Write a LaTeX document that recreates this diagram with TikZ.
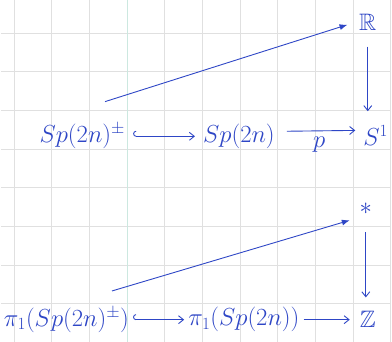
\documentclass[tikz,border=0pt]{standalone}
\usepackage{amsmath,amssymb}
\usepackage{tikz}
\usetikzlibrary{arrows.meta,positioning}
\definecolor{InkColor}{RGB}{46,70,198}
\definecolor{GridColor}{RGB}{224,224,224}
\definecolor{MarginColor}{RGB}{204,232,224}

\begin{document}
\begin{tikzpicture}[x=1pt, y=-1pt, >={Straight Barb[length=5pt,width=8pt]}, font=\fontsize{24}{28}\selectfont,
    every node/.style={text=InkColor, inner sep=4pt},
    ink/.style={draw=InkColor, line width=0.9pt}]
      % squared paper
      \fill[white] (0,0) rectangle (392,344);
      \foreach \gx in {13,51,...,393} \draw[GridColor, line width=0.8pt] (\gx,0) -- (\gx,344);
      \foreach \gy in {33,72,...,344} \draw[GridColor, line width=0.8pt] (0,\gy) -- (392,\gy);
      \draw[MarginColor, line width=1pt] (128,0) -- (128,344);
      % upper row
      \node (r) at (370,22) {$\mathbb{R}$};
      \node (spm) at (82,137) {$Sp(2n)^{\pm}$};
      \node (sp) at (240,137) {$Sp(2n)$};
      \node (s) at (378,136) {$S^1$};
      \coordinate (lift) at (105,102);
      \draw[ink, {Hooks[right,length=3pt]}->, shorten <=4pt, shorten >=4pt] (spm) -- (sp);
      \draw[ink, ->, shorten <=8pt, shorten >=4pt] ([yshift=5pt]sp.east) -- node[below=2pt] {$p$} ([yshift=5pt]s.west);
      \draw[ink, ->, shorten <=12pt, shorten >=10pt] (r.south) -- (r.south |- s.north);
      \draw[ink, -{Latex[length=8pt,width=6pt]}, shorten >=8pt] (lift) -- (r.west);
      % lower row
      \node (pt) at (368,210) {$\ast$};
      \node (pim) at (66,322) {$\pi_1(Sp(2n)^{\pm})$};
      \node (pi) at (245,322) {$\pi_1(Sp(2n))$};
      \node (z) at (370,322) {$\mathbb{Z}$};
      \coordinate (base) at (112,293);
      \draw[ink, {Hooks[right,length=3pt]}->] (pim) -- (pi);
      \draw[ink, ->, shorten >=6pt] (pi) -- (z);
      \draw[ink, ->, shorten <=14pt, shorten >=10pt] (pt.south) -- (pt.south |- z.north);
      \draw[ink, -{Latex[length=8pt,width=6pt]}, shorten >=6pt] (base) -- (pt.south west);
\end{tikzpicture}
\end{document}
